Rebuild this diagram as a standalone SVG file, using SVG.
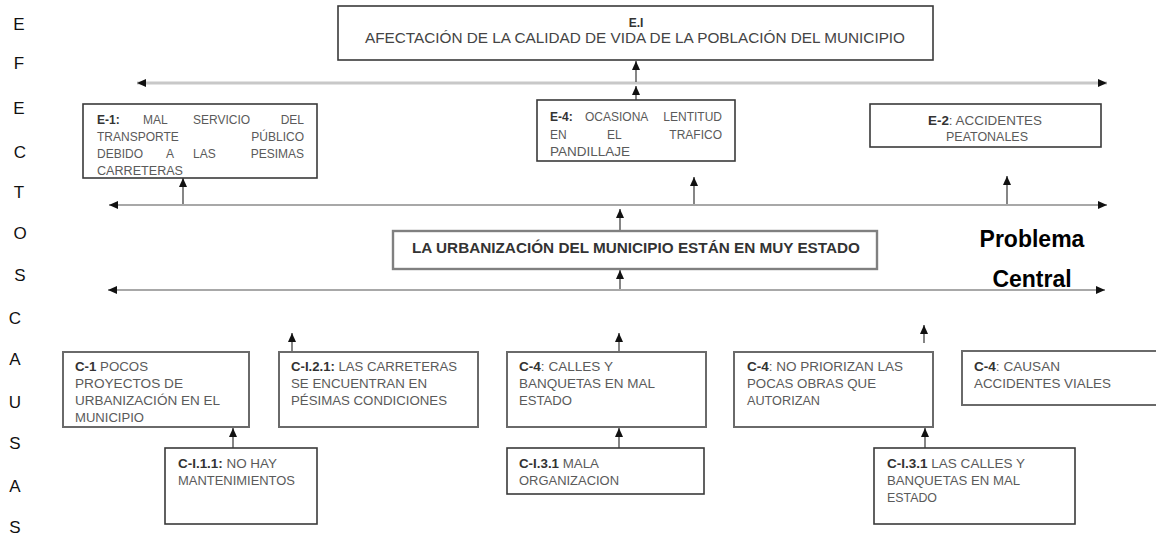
<svg xmlns="http://www.w3.org/2000/svg" width="1156" height="539" viewBox="0 0 1156 539">
<style>
  .bg{fill:#ffffff}
  .box{fill:#ffffff;stroke:#3a3a3a;stroke-width:1.6}
  .cbox{fill:#ffffff;stroke:#808080;stroke-width:2.4}
  .gbox{fill:#ffffff;stroke:#6a6a6a;stroke-width:2}
  .t{font-family:"Liberation Sans",Arial,sans-serif;font-size:12px;fill:#5a5a5a}
  .b{font-weight:bold;fill:#333333}
  .big{font-family:"Liberation Sans",Arial,sans-serif;font-size:14.5px;fill:#444444}
  .ctr{font-family:"Liberation Sans",Arial,sans-serif;font-size:14px;font-weight:bold;fill:#333333}
  .side{font-family:"Liberation Sans",Arial,sans-serif;font-size:17px;fill:#111111;text-anchor:middle}
  .pc{font-family:"Liberation Sans",Arial,sans-serif;font-size:23px;font-weight:bold;fill:#000000;text-anchor:middle}
  .hl1{stroke:#c8c8c8;stroke-width:3;fill:none}
  .hl{stroke:#a8a8a8;stroke-width:2;fill:none}
  .va{stroke:#444444;stroke-width:1.3;fill:none}
</style>
<defs>
  <marker id="ah" markerUnits="userSpaceOnUse" markerWidth="9" markerHeight="8" refX="9" refY="4" orient="auto">
    <path d="M0,0 L9,4 L0,8 z" fill="#111111"/>
  </marker>
  <marker id="ahh" markerUnits="userSpaceOnUse" markerWidth="9" markerHeight="8" refX="9" refY="4" orient="auto-start-reverse">
    <path d="M0,0 L9,4 L0,8 z" fill="#111111"/>
  </marker>
</defs>
<rect class="bg" x="0" y="0" width="1156" height="539"/>

<g id="side-labels">
  <text class="side" x="19" y="30">E</text>
  <text class="side" x="19" y="69">F</text>
  <text class="side" x="19" y="114">E</text>
  <text class="side" x="20" y="158">C</text>
  <text class="side" x="19" y="198">T</text>
  <text class="side" x="20" y="239">O</text>
  <text class="side" x="20" y="281">S</text>
  <text class="side" x="15" y="324">C</text>
  <text class="side" x="15" y="365">A</text>
  <text class="side" x="15" y="408">U</text>
  <text class="side" x="15" y="449">S</text>
  <text class="side" x="15" y="492">A</text>
  <text class="side" x="15" y="533">S</text>
</g>

<g id="problema-central">
  <text class="pc" x="1032" y="247">Problema</text>
  <text class="pc" x="1032" y="287">Central</text>
</g>

<g id="connectors">
  <line class="hl1" x1="137" y1="83" x2="1107" y2="83" marker-start="url(#ahh)" marker-end="url(#ahh)"/>
  <line class="hl" x1="109" y1="205" x2="1107" y2="205" marker-start="url(#ahh)" marker-end="url(#ahh)"/>
  <line class="hl" x1="108" y1="290" x2="1105" y2="290" marker-start="url(#ahh)" marker-end="url(#ahh)"/>
  <line class="va" x1="636" y1="82" x2="636" y2="61" marker-end="url(#ah)"/>
  <line class="va" x1="636" y1="100" x2="636" y2="86" marker-end="url(#ah)"/>
  <line class="va" x1="183" y1="204" x2="183" y2="178" marker-end="url(#ah)"/>
  <line class="va" x1="694" y1="204" x2="694" y2="177" marker-end="url(#ah)"/>
  <line class="va" x1="1007" y1="204" x2="1007" y2="176" marker-end="url(#ah)"/>
  <line class="va" x1="620" y1="231" x2="620" y2="209" marker-end="url(#ah)"/>
  <line class="va" x1="620" y1="289" x2="620" y2="270" marker-end="url(#ah)"/>
  <line class="va" x1="292" y1="352" x2="292" y2="333" marker-end="url(#ah)"/>
  <line class="va" x1="619" y1="352" x2="619" y2="333" marker-end="url(#ah)"/>
  <line class="va" x1="924" y1="343" x2="924" y2="325" marker-end="url(#ah)"/>
  <line class="va" x1="233" y1="448" x2="233" y2="428" marker-end="url(#ah)"/>
  <line class="va" x1="619" y1="448" x2="619" y2="428" marker-end="url(#ah)"/>
  <line class="va" x1="925" y1="448" x2="925" y2="428" marker-end="url(#ah)"/>
</g>

<g id="E-I">
  <rect class="box" x="338" y="6" width="595" height="54"/>
  <text class="t b" x="636" y="27" text-anchor="middle" font-size="11">E.I</text>
  <text class="big" x="365" y="43" textLength="540" lengthAdjust="spacingAndGlyphs">AFECTACIÓN DE LA CALIDAD DE VIDA DE LA POBLACIÓN DEL MUNICIPIO</text>
</g>

<g id="E-1">
  <rect class="box" x="83" y="104" width="234" height="74"/>
  <text class="t b" x="97" y="124">E-1:</text>
  <text class="t" x="143" y="124">MAL</text>
  <text class="t" x="193" y="124">SERVICIO</text>
  <text class="t" x="304" y="124" text-anchor="end">DEL</text>
  <text class="t" x="97" y="141">TRANSPORTE</text>
  <text class="t" x="304" y="141" text-anchor="end">PÚBLICO</text>
  <text class="t" x="97" y="158">DEBIDO</text>
  <text class="t" x="166" y="158">A</text>
  <text class="t" x="193" y="158">LAS</text>
  <text class="t" x="304" y="158" text-anchor="end">PESIMAS</text>
  <text class="t" x="97" y="175" textLength="86" lengthAdjust="spacingAndGlyphs">CARRETERAS</text>
</g>

<g id="E-4">
  <rect class="box" x="537" y="100" width="198" height="61"/>
  <text class="t b" x="550" y="121">E-4:</text>
  <text class="t" x="585" y="121">OCASIONA</text>
  <text class="t" x="722" y="121" text-anchor="end">LENTITUD</text>
  <text class="t" x="550" y="139">EN</text>
  <text class="t" x="607" y="139">EL</text>
  <text class="t" x="722" y="139" text-anchor="end">TRAFICO</text>
  <text class="t" x="550" y="156" textLength="80" lengthAdjust="spacingAndGlyphs">PANDILLAJE</text>
</g>

<g id="E-2">
  <rect class="box" x="870" y="104" width="231" height="43"/>
  <text class="t" x="928" y="125" textLength="114" lengthAdjust="spacingAndGlyphs"><tspan class="b">E-2</tspan>: ACCIDENTES</text>
  <text class="t" x="946" y="141" textLength="82" lengthAdjust="spacingAndGlyphs">PEATONALES</text>
</g>

<g id="problema">
  <rect class="cbox" x="393" y="231" width="484" height="38"/>
  <text class="ctr" x="412" y="253" textLength="448" lengthAdjust="spacingAndGlyphs">LA URBANIZACIÓN  DEL MUNICIPIO ESTÁN EN MUY ESTADO</text>
</g>

<g id="C-1">
  <rect class="gbox" x="63" y="352" width="186" height="75"/>
  <text class="t" x="75" y="371" textLength="73" lengthAdjust="spacingAndGlyphs"><tspan class="b">C-1</tspan> POCOS</text>
  <text class="t" x="75" y="388" textLength="108" lengthAdjust="spacingAndGlyphs">PROYECTOS  DE</text>
  <text class="t" x="75" y="405" textLength="145" lengthAdjust="spacingAndGlyphs">URBANIZACIÓN  EN EL</text>
  <text class="t" x="75" y="422" textLength="69" lengthAdjust="spacingAndGlyphs">MUNICIPIO</text>
</g>

<g id="C-I.2.1">
  <rect class="gbox" x="279" y="352" width="199" height="75"/>
  <text class="t" x="291" y="371" textLength="166" lengthAdjust="spacingAndGlyphs"><tspan class="b">C-I.2.1:</tspan> LAS CARRETERAS</text>
  <text class="t" x="291" y="388" textLength="136" lengthAdjust="spacingAndGlyphs">SE ENCUENTRAN  EN</text>
  <text class="t" x="291" y="405" textLength="156" lengthAdjust="spacingAndGlyphs">PÉSIMAS CONDICIONES</text>
</g>

<g id="C-4-calles">
  <rect class="gbox" x="507" y="352" width="199" height="75"/>
  <text class="t" x="519" y="371" textLength="94" lengthAdjust="spacingAndGlyphs"><tspan class="b">C-4</tspan>: CALLES Y</text>
  <text class="t" x="519" y="388" textLength="136" lengthAdjust="spacingAndGlyphs">BANQUETAS  EN MAL</text>
  <text class="t" x="519" y="405" textLength="53" lengthAdjust="spacingAndGlyphs">ESTADO</text>
</g>

<g id="C-4-priorizan">
  <rect class="gbox" x="734" y="352" width="199" height="75"/>
  <text class="t" x="747" y="371" textLength="156" lengthAdjust="spacingAndGlyphs"><tspan class="b">C-4</tspan>: NO PRIORIZAN  LAS</text>
  <text class="t" x="747" y="388" textLength="129" lengthAdjust="spacingAndGlyphs">POCAS OBRAS QUE</text>
  <text class="t" x="747" y="405" textLength="73" lengthAdjust="spacingAndGlyphs">AUTORIZAN</text>
</g>

<g id="C-4-causan">
  <rect class="gbox" x="962" y="351" width="200" height="54"/>
  <text class="t" x="974" y="371" textLength="86" lengthAdjust="spacingAndGlyphs"><tspan class="b">C-4</tspan>: CAUSAN</text>
  <text class="t" x="974" y="388" textLength="137" lengthAdjust="spacingAndGlyphs">ACCIDENTES VIALES</text>
</g>

<g id="C-I.1.1">
  <rect class="box" x="165" y="448" width="152" height="76"/>
  <text class="t" x="178" y="468" textLength="99" lengthAdjust="spacingAndGlyphs"><tspan class="b">C-I.1.1:</tspan> NO HAY</text>
  <text class="t" x="178" y="485" textLength="117" lengthAdjust="spacingAndGlyphs">MANTENIMIENTOS</text>
</g>

<g id="C-I.3.1-mala">
  <rect class="box" x="507" y="448" width="197" height="46"/>
  <text class="t" x="519" y="468" textLength="80" lengthAdjust="spacingAndGlyphs"><tspan class="b">C-I.3.1</tspan> MALA</text>
  <text class="t" x="519" y="485" textLength="100" lengthAdjust="spacingAndGlyphs">ORGANIZACION</text>
</g>

<g id="C-I.3.1-calles">
  <rect class="box" x="874" y="448" width="201" height="76"/>
  <text class="t" x="887" y="468" textLength="138" lengthAdjust="spacingAndGlyphs"><tspan class="b">C-I.3.1</tspan> LAS CALLES Y</text>
  <text class="t" x="887" y="485" textLength="133" lengthAdjust="spacingAndGlyphs">BANQUETAS  EN MAL</text>
  <text class="t" x="887" y="502" textLength="50" lengthAdjust="spacingAndGlyphs">ESTADO</text>
</g>
</svg>
